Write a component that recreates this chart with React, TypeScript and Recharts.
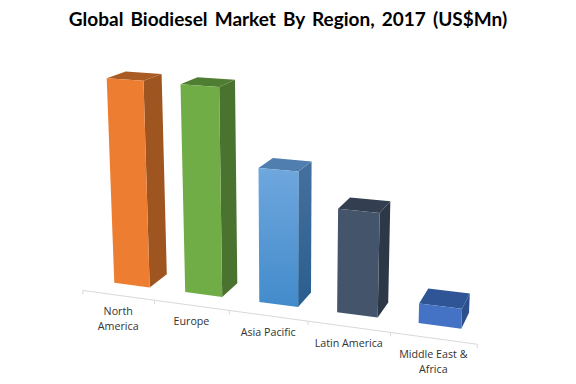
import { BarChart, Bar, XAxis, YAxis } from "recharts";

const categories = ["North America", "Europe", "Asia Pacific", "Latin America", "Middle East & Africa"];
const tickLines = [["North", "America"], ["Europe"], ["Asia Pacific"], ["Latin America"], ["Middle East &", "Africa"]];
const marketValues = [196, 195, 125, 95, 18];
const chartData = categories.map((region, i) => ({ region, value: marketValues[i] }));

// [front top, front bottom, side top, side bottom, roof]
const faceColors = [
  ["#ED7D31", "#ED7D31", "#9E5520", "#9E5520", "#A95B24"],
  ["#70AD47", "#70AD47", "#4A7330", "#4A7330", "#4F7D32"],
  ["#6FA7DE", "#428BCB", "#44709F", "#2A5E8E", "#4F7EAF"],
  ["#44546A", "#44546A", "#2C3747", "#2C3747", "#333F50"],
  ["#4472C4", "#4472C4", "#2D4F8C", "#2D4F8C", "#2F5597"],
];

const ORIGIN = { x: 114.3, y: 282.7 };
const VP_WIDTH = { x: -3000, y: -130 };
const VP_HEIGHT = { x: 290, y: 5000 };
const VP_DEPTH = { x: 680, y: -120 };
const U_RATE = -1 / 3114;
const H_RATE = -1 / 4717;
const BAR_DEPTH = 0.033;
const AXIS_DEPTH = -0.0245;
const PLOT_LEFT = 97.3;
const BAND = 69.3;
const BAND_GAP = 17;

// perspective projection of the flat recharts coords (along axis, up, depth)
function project(u: number, h: number, d: number) {
  const a = u * U_RATE;
  const b = h * H_RATE;
  const w = 1 + a + b + d;
  const x = (ORIGIN.x + a * VP_WIDTH.x + b * VP_HEIGHT.x + d * VP_DEPTH.x) / w;
  const y = (ORIGIN.y + a * VP_WIDTH.y + b * VP_HEIGHT.y + d * VP_DEPTH.y) / w;
  return { x, y };
}

function poly(points: { x: number; y: number }[]) {
  return points.map((p) => `${p.x.toFixed(1)},${p.y.toFixed(1)}`).join(" ");
}

function Box3D(props: any) {
  const { x, width, height, index } = props;
  const u0 = x - PLOT_LEFT - BAND_GAP;
  const u1 = u0 + width;
  const colors = faceColors[index];
  const frontLT = project(u0, height, 0);
  const frontRT = project(u1, height, 0);
  const frontRB = project(u1, 0, 0);
  const frontLB = project(u0, 0, 0);
  const backRT = project(u1, height, BAR_DEPTH);
  const backRB = project(u1, 0, BAR_DEPTH);
  const backLT = project(u0, height, BAR_DEPTH);
  return (
    <g>
      <defs>
        <linearGradient id={`front${index}`} x1="0" y1="0" x2="0" y2="1">
          <stop offset="0%" stopColor={colors[0]} />
          <stop offset="100%" stopColor={colors[1]} />
        </linearGradient>
        <linearGradient id={`side${index}`} x1="0" y1="0" x2="0" y2="1">
          <stop offset="0%" stopColor={colors[2]} />
          <stop offset="100%" stopColor={colors[3]} />
        </linearGradient>
      </defs>
      <polygon points={poly([frontRT, backRT, backRB, frontRB])} fill={`url(#side${index})`} />
      <polygon points={poly([frontLT, backLT, backRT, frontRT])} fill={colors[4]} />
      <polygon points={poly([frontLT, frontRT, frontRB, frontLB])} fill={`url(#front${index})`} />
    </g>
  );
}

function FloorTick(props: any) {
  const { x, index } = props;
  const mid = x - PLOT_LEFT - BAND_GAP;
  const left = mid - BAND / 2;
  const right = mid + BAND / 2;
  const start = project(left, 0, AXIS_DEPTH);
  const end = project(right, 0, AXIS_DEPTH);
  const label = project(mid, 0, AXIS_DEPTH);
  const lines = tickLines[index];
  return (
    <g>
      <line x1={start.x} y1={start.y} x2={end.x} y2={end.y} stroke="#D9D9D9" />
      <line x1={start.x} y1={start.y} x2={start.x} y2={start.y + 4} stroke="#D9D9D9" />
      {index === categories.length - 1 && (
        <line x1={end.x} y1={end.y} x2={end.x} y2={end.y + 4} stroke="#D9D9D9" />
      )}
      <text x={label.x} y={label.y + 20} textAnchor="middle" fontSize={10.7} fontFamily="'Open Sans'" fill="#333333">
        {lines.map((line, i) => (
          <tspan key={line} x={label.x} dy={i === 0 ? 0 : 15}>
            {line}
          </tspan>
        ))}
      </text>
    </g>
  );
}

export default function App() {
  return (
    <div style={{ position: "absolute", left: 0, top: 0, width: 576, height: 384, background: "#fff" }}>
      <div
        style={{
          position: "absolute",
          top: 8,
          left: 0,
          width: 576,
          textAlign: "center",
          fontFamily: "Lato",
          fontWeight: 700,
          fontSize: 19,
          lineHeight: "22px",
          wordSpacing: 2.5,
          color: "#000",
        }}
      >
        Global Biodiesel Market By Region, 2017 (US$Mn)
      </div>
      <BarChart
        width={576}
        height={384}
        data={chartData}
        barCategoryGap="24.5%"
        margin={{ top: 100, right: 132.2, bottom: 54, left: PLOT_LEFT }}
      >
        <XAxis
          dataKey="region"
          height={30}
          axisLine={false}
          tickLine={false}
          interval={0}
          tick={FloorTick}
        />
        <YAxis hide domain={[0, 200]} />
        <Bar dataKey="value" shape={Box3D} isAnimationActive={false} />
      </BarChart>
    </div>
  );
}
